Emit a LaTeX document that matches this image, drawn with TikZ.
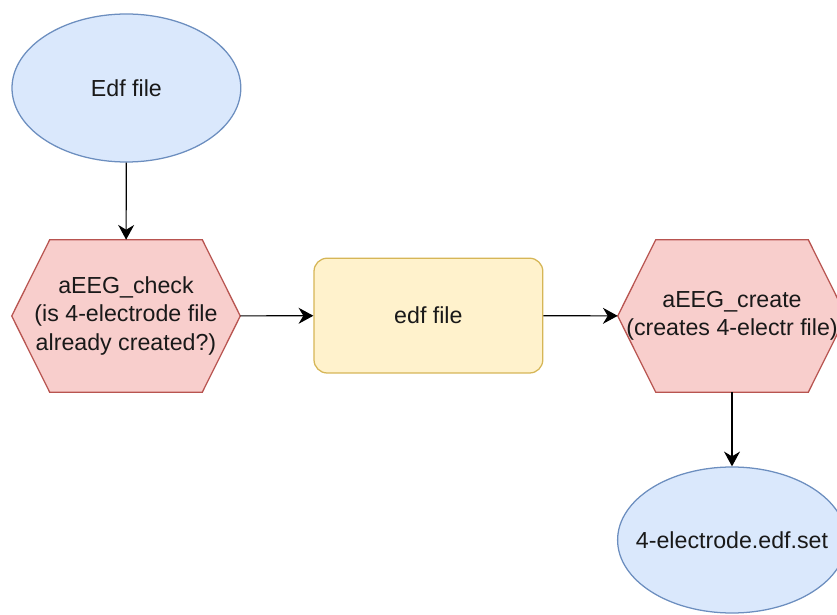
\documentclass[tikz,border=0pt]{standalone}
\usepackage{fontspec}
\setmainfont{Liberation Sans}
\usetikzlibrary{arrows.meta,shapes.geometric,backgrounds}

\definecolor{bluefill}{HTML}{DAE8FC}
\definecolor{bluedraw}{HTML}{6C8EBF}
\definecolor{redfill}{HTML}{F8CECC}
\definecolor{reddraw}{HTML}{B85450}
\definecolor{yellowfill}{HTML}{FFF2CC}
\definecolor{yellowdraw}{HTML}{D6B656}

\begin{document}
\begin{tikzpicture}[
    x=1cm, y=1cm,
    every node/.style={font=\fontsize{16.5}{20}\selectfont, text=black!90},
    datafile/.style={
        ellipse,
        draw=bluedraw,
        fill=bluefill,
        line width=0.9pt,
        inner xsep=-1cm,
        minimum width=5.72cm,
        minimum height=3.70cm
    },
    script/.style={
        align=center,
        inner sep=0pt,
        minimum width=5.7cm,
        minimum height=3.8cm
    },
    hexa/.style={
        draw=reddraw,
        fill=redfill,
        line width=0.9pt
    },
    store/.style={
        draw=yellowdraw,
        fill=yellowfill,
        line width=0.9pt,
        rounded corners=0.33cm,
        minimum width=5.72cm,
        minimum height=2.87cm
    },
    arr/.style={-{Stealth[length=0.37cm, width=0.40cm, inset=0.12cm]}, line width=0.8pt}
]
    \useasboundingbox (0, 0) rectangle (20.925, 15.35);

    % input
    \node[datafile] (edfin) at (3.16, 13.15) {Edf file};

    % first step
    \node[script] (check) at (3.15, 7.45) {aEEG\_check\\(is 4-electrode file\\already created?)};

    % intermediate file
    \node[store] (edf) at (10.71, 7.46) {edf file};

    % second step
    \node[script] (create) at (18.30, 7.45) {aEEG\_create\\(creates 4-electr file)};

    % output
    \node[datafile, minimum height=3.65cm] (edfout) at (18.30, 1.85) {4-electrode.edf.set};

    % hexagons behind the two scripts
    \begin{scope}[on background layer]
        \foreach \s in {check, create}
            \filldraw[hexa] (\s.west) -- ([xshift=0.95cm]\s.north west) -- ([xshift=-0.95cm]\s.north east)
                -- (\s.east) -- ([xshift=-0.95cm]\s.south east) -- ([xshift=0.95cm]\s.south west) -- cycle;
    \end{scope}

    % flow
    \draw[arr] (edfin) -- (check);
    \draw[arr] (check) -- (edf);
    \draw[arr] (edf) -- (create);
    \draw[arr] (create) -- (edfout);

\end{tikzpicture}
\end{document}
